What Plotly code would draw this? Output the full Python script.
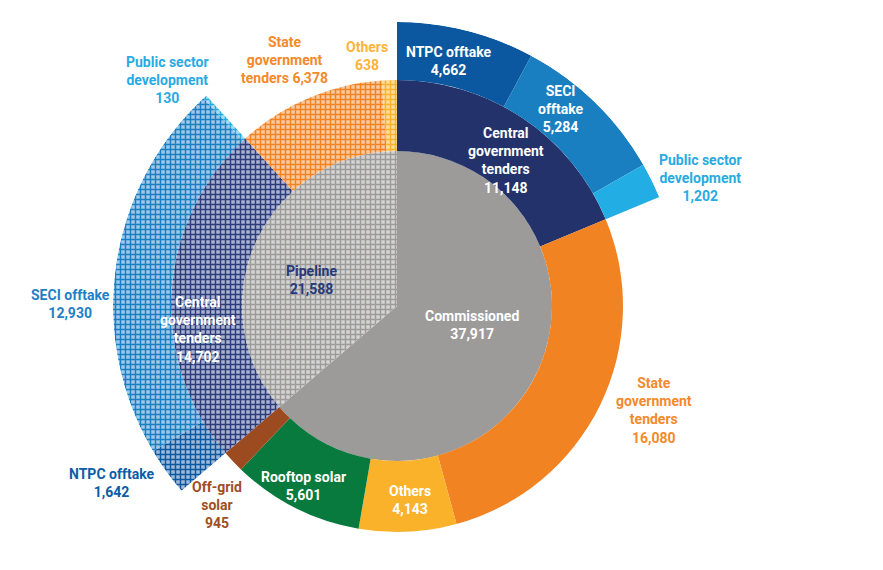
import math
import plotly.graph_objects as go

# ---------------- data ----------------
status_labels = ["Commissioned", "Pipeline"]
status_values = [37917, 21588]

comm_labels = ["Central government tenders", "State government tenders", "Others",
               "Rooftop solar", "Off-grid solar"]
comm_values = [11148, 16080, 4143, 5601, 945]

pipe_labels = ["Central government tenders", "State government tenders", "Others"]
pipe_values = [14702, 6378, 638]

comm_cgt_labels = ["NTPC offtake", "SECI offtake", "Public sector development"]
comm_cgt_values = [4662, 5284, 1202]

pipe_cgt_labels = ["NTPC offtake", "SECI offtake", "Public sector development"]
pipe_cgt_values = [1642, 12930, 130]

# ---------------- styles ----------------
W, H = 883, 570
CX, CY = 397, 306          # centre of the rings (px)
RPX = 264                  # px radius of the inner polar subplot
R_IN, R_MID, R_OUT = 155, 226, 284

col_grey = "#9c9b9a"
col_navy = "#23326a"
col_orange = "#f28322"
col_yellow = "#fbb22b"
col_green = "#087a3e"
col_brown = "#9c4a1f"
col_ntpc = "#0b58a0"
col_seci = "#1a7fc1"
col_psd = "#22aee4"

comm_colors = [col_navy, col_orange, col_yellow, col_green, col_brown]
pipe_colors = ["#2c3c78", col_orange, col_yellow]
pipe_bg = ["#a9b2d3", "#f9c9a0", "#fcdc9c"]
cgt_colors = [col_ntpc, col_seci, col_psd]
cgt_bg = ["#9dbadb", "#9fc8ea", "#a8def4"]


def spans(values, start, extent):
    tot = float(sum(values))
    out, a = [], start
    for v in values:
        w = extent * v / tot
        out.append((a + w / 2.0, w, a))
        a += w
    return out


fig = go.Figure()


def wedge(theta, width, base, thick, color, pattern=None, name="", subplot="polar"):
    marker = dict(color=color, line=dict(width=0))
    if pattern is not None:
        marker["pattern"] = dict(shape="+", fillmode="replace", fgcolor=color,
                                 bgcolor=pattern, size=5, solidity=0.5)
    fig.add_trace(go.Barpolar(theta=[theta], width=[width], base=[base], r=[thick],
                              marker=marker, name=name, hoverinfo="skip",
                              showlegend=False, subplot=subplot))


# inner ring
inner = spans(status_values, 0.0, 360.0)
wedge(inner[0][0], inner[0][1], 0, R_IN, col_grey, name=status_labels[0])
wedge(inner[1][0], inner[1][1], 0, R_IN, col_grey, pattern="#d4d4d4", name=status_labels[1])

# middle ring
comm_start, comm_ext = inner[0][2], inner[0][1]
pipe_start, pipe_ext = inner[1][2], inner[1][1]
mid_c = spans(comm_values, comm_start, comm_ext)
for (t, w, s), c, lab in zip(mid_c, comm_colors, comm_labels):
    wedge(t, w, R_IN, R_MID - R_IN, c, name=lab)
mid_p = spans(pipe_values, pipe_start, pipe_ext)
for (t, w, s), c, bg, lab in zip(mid_p, pipe_colors, pipe_bg, pipe_labels):
    wedge(t, w, R_IN, R_MID - R_IN, c, pattern=bg, name=lab)

# outer ring (second polar subplot restricted to the sector it occupies)
out_c = spans(comm_cgt_values, mid_c[0][2], mid_c[0][1])
for (t, w, s), c, lab in zip(out_c, cgt_colors, comm_cgt_labels):
    wedge(t, w, R_MID, R_OUT - R_MID, c, name=lab, subplot="polar2")
out_p = spans(pipe_cgt_values, mid_p[0][2], mid_p[0][1])
for (t, w, s), c, bg, lab in zip(out_p, cgt_colors, cgt_bg, pipe_cgt_labels):
    wedge(t, w, R_MID, R_OUT - R_MID, c, pattern=bg, name=lab, subplot="polar2")

# sector of polar2 (screen angles, counterclockwise from east)
outer_end = mid_c[0][2] + mid_c[0][1]        # clockwise-from-north angle
outer_start = mid_p[0][2]
pad = 0.6
sec0 = 90 - outer_end - pad
sec1 = 90 - outer_start + 360 + pad


def sector_bbox(s0, s1):
    arc = s1 - s0
    a0 = s0 % 360
    a1 = a0 + arc
    ax0, ay0 = math.cos(math.radians(a0)), math.sin(math.radians(a0))
    ax1, ay1 = math.cos(math.radians(a1)), math.sin(math.radians(a1))

    def contains(a):
        return (a0 <= a <= a1) or (a0 <= a + 360 <= a1)
    x0 = -1 if contains(180) else min(ax0, ax1, 0)
    x1 = 1 if contains(0) else max(ax0, ax1, 0)
    y0 = -1 if contains(270) else min(ay0, ay1, 0)
    y1 = 1 if contains(90) else max(ay0, ay1, 0)
    return x0, y0, x1, y1


bx0, by0, bx1, by1 = sector_bbox(sec0, sec1)
p2x = [(CX + bx0 * R_OUT) / W, (CX + bx1 * R_OUT) / W]
p2y = [(H - (CY - by0 * R_OUT)) / H, (H - (CY - by1 * R_OUT)) / H]

# ---------------- labels ----------------
def fmt(v):
    return f"{v:,}"

labels = [
    (f"NTPC offtake<br>{fmt(comm_cgt_values[0])}", 449, 61, "white"),
    (f"SECI<br>offtake<br>{fmt(comm_cgt_values[1])}", 560, 109, "white"),
    (f"Public sector<br>development<br>{fmt(comm_cgt_values[2])}", 700, 178, "#29abe2"),
    (f"Central<br>government<br>tenders<br>{fmt(comm_values[0])}", 506, 160, "white"),
    (f"Commissioned<br>{fmt(status_values[0])}", 472, 325, "white"),
    (f"State<br>government<br>tenders<br>{fmt(comm_values[1])}", 654, 410, "#f38a2b"),
    (f"Others<br>{fmt(comm_values[2])}", 410, 500, "white"),
    (f"Rooftop solar<br>{fmt(comm_values[3])}", 303, 486, "white"),
    (f"Off-grid<br>solar<br>{fmt(comm_values[4])}", 217, 505, "#a04e24"),
    (f"NTPC offtake<br>{fmt(pipe_cgt_values[0])}", 112, 483, "#0d5ca6"),
    (f"SECI offtake<br>{fmt(pipe_cgt_values[1])}", 70, 304, "#1f80c6"),
    (f"Central<br>government<br>tenders<br>{fmt(pipe_values[0])}", 198, 329, "white"),
    (f"Pipeline<br>{fmt(status_values[1])}", 311, 280, "#27397a"),
    (f"Public sector<br>development<br>{fmt(pipe_cgt_values[2])}", 167, 80, "#29abe2"),
    (f"State<br>government<br>tenders {fmt(pipe_values[1])}", 284, 60, "#f38a2b"),
    (f"Others<br>{fmt(pipe_values[2])}", 367, 56, "#fbb33a"),
]
for text, x, y, c in labels:
    fig.add_annotation(text=f"<b>{text}</b>", x=x / W, y=1 - y / H, xref="paper", yref="paper",
                       xanchor="center", yanchor="middle", align="center", showarrow=False,
                       font=dict(family="Roboto, Lato, sans-serif", size=14, color=c))

hidden_angular = dict(visible=False, rotation=90, direction="clockwise", showgrid=False)
fig.update_layout(
    width=W, height=H,
    margin=dict(l=0, r=0, t=0, b=0),
    paper_bgcolor="white", plot_bgcolor="white",
    showlegend=False,
    polar=dict(
        domain=dict(x=[(CX - RPX) / W, (CX + RPX) / W],
                    y=[(H - CY - RPX) / H, (H - CY + RPX) / H]),
        bgcolor="rgba(0,0,0,0)",
        radialaxis=dict(range=[0, RPX], visible=False, showgrid=False),
        angularaxis=hidden_angular,
    ),
    polar2=dict(
        domain=dict(x=p2x, y=p2y),
        sector=[sec0, sec1],
        bgcolor="rgba(0,0,0,0)",
        radialaxis=dict(range=[0, R_OUT], visible=False, showgrid=False),
        angularaxis=hidden_angular,
    ),
)

fig.write_html("out.html", config={"displayModeBar": False},
               post_script="document.body.style.margin='0px';")
